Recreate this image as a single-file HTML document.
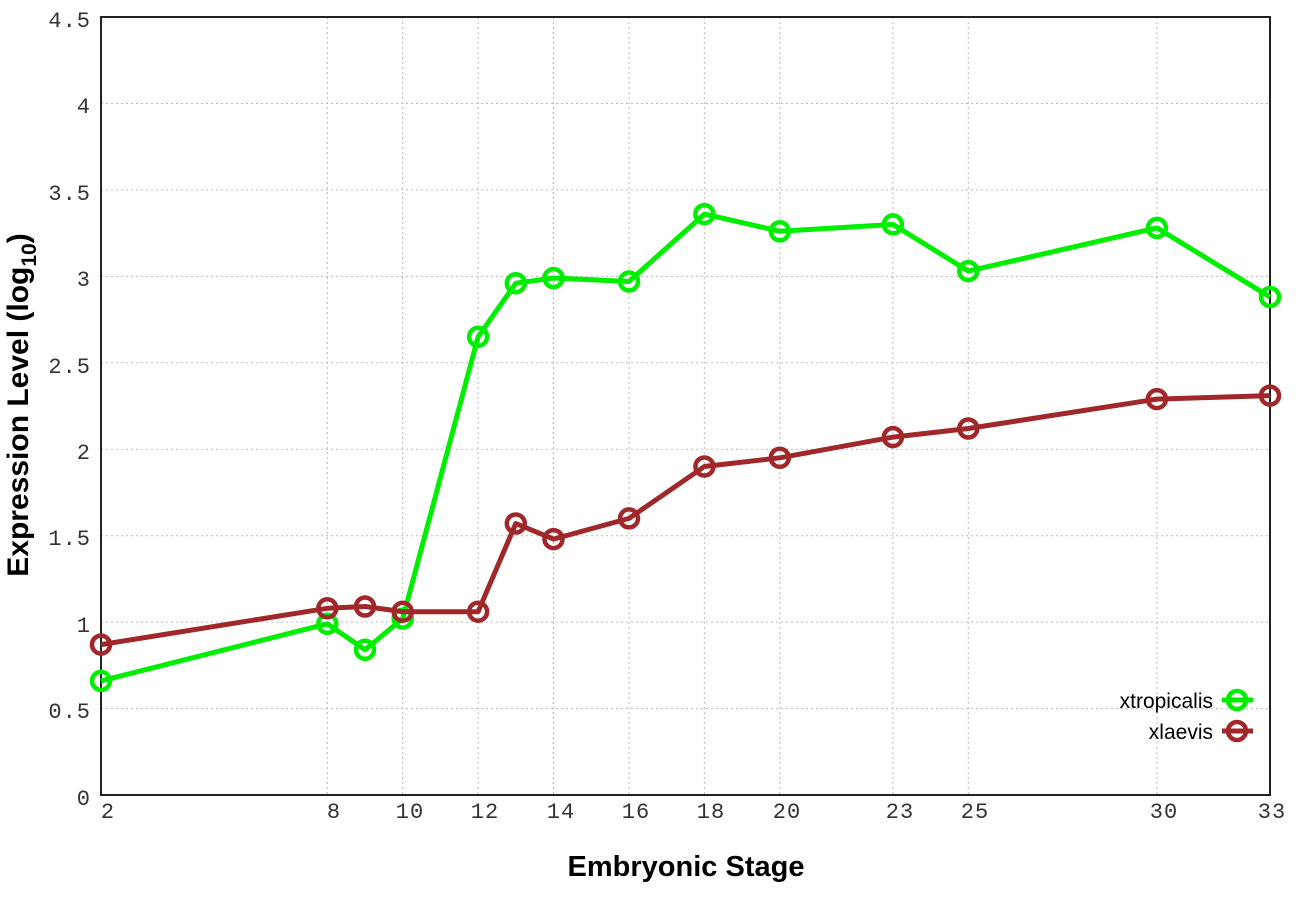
<!DOCTYPE html>
<html><head><meta charset="utf-8"><style>
html,body{margin:0;padding:0;background:#fff;}
svg{display:block;}
.t{font-family:"Liberation Mono",monospace;font-size:22px;fill:#333;letter-spacing:1px;}
</style></head><body>
<svg width="1296" height="907" viewBox="0 0 1296 907" xmlns="http://www.w3.org/2000/svg">
<g stroke="#bbb" stroke-width="1" stroke-dasharray="2,3">
<line x1="101" y1="708.6" x2="1270" y2="708.6"/>
<line x1="101" y1="622.1" x2="1270" y2="622.1"/>
<line x1="101" y1="535.7" x2="1270" y2="535.7"/>
<line x1="101" y1="449.2" x2="1270" y2="449.2"/>
<line x1="101" y1="362.8" x2="1270" y2="362.8"/>
<line x1="101" y1="276.4" x2="1270" y2="276.4"/>
<line x1="101" y1="189.9" x2="1270" y2="189.9"/>
<line x1="101" y1="103.5" x2="1270" y2="103.5"/>
<line x1="327.3" y1="17" x2="327.3" y2="795"/>
<line x1="402.7" y1="17" x2="402.7" y2="795"/>
<line x1="478.1" y1="17" x2="478.1" y2="795"/>
<line x1="553.5" y1="17" x2="553.5" y2="795"/>
<line x1="629" y1="17" x2="629" y2="795"/>
<line x1="704.4" y1="17" x2="704.4" y2="795"/>
<line x1="779.8" y1="17" x2="779.8" y2="795"/>
<line x1="892.9" y1="17" x2="892.9" y2="795"/>
<line x1="968.3" y1="17" x2="968.3" y2="795"/>
<line x1="1156.9" y1="17" x2="1156.9" y2="795"/>
</g>
<rect x="101" y="17" width="1169" height="778" fill="none" stroke="#222" stroke-width="2"/>
<g class="t" text-anchor="end">
<text x="91" y="805">0</text>
<text x="91" y="718">0.5</text>
<text x="91" y="632">1</text>
<text x="91" y="545">1.5</text>
<text x="91" y="459">2</text>
<text x="91" y="373">2.5</text>
<text x="91" y="286">3</text>
<text x="91" y="200">3.5</text>
<text x="91" y="113">4</text>
<text x="91" y="27">4.5</text>
</g>
<g class="t" text-anchor="middle">
<text x="108" y="818">2</text>
<text x="334" y="818">8</text>
<text x="410" y="818">10</text>
<text x="485" y="818">12</text>
<text x="561" y="818">14</text>
<text x="636" y="818">16</text>
<text x="711" y="818">18</text>
<text x="787" y="818">20</text>
<text x="900" y="818">23</text>
<text x="975" y="818">25</text>
<text x="1164" y="818">30</text>
<text x="1272" y="818">33</text>
</g>
<text x="686" y="876" text-anchor="middle" font-family="Liberation Sans,sans-serif" font-weight="bold" font-size="29" fill="#000">Embryonic Stage</text>
<text transform="translate(28,405) rotate(-90)" text-anchor="middle" font-family="Liberation Sans,sans-serif" font-weight="bold" font-size="30" fill="#000">Expression Level (log<tspan font-size="21" dy="8">10</tspan><tspan dy="-8">)</tspan></text>
<g fill="none" stroke="#00ee00" stroke-width="5" stroke-linejoin="round">
<polyline points="101,680.9 327.3,623.8 365,649.8 402.7,618.6 478.1,336.8 515.8,283.2 553.5,278 629,281.5 704.4,214.1 779.8,231.3 892.9,224.4 968.3,271.1 1156.9,227.9 1270,297"/>
<g stroke-width="4.5">
<circle cx="101" cy="680.9" r="9"/><circle cx="327.3" cy="623.8" r="9"/><circle cx="365" cy="649.8" r="9"/><circle cx="402.7" cy="618.6" r="9"/><circle cx="478.1" cy="336.8" r="9"/><circle cx="515.8" cy="283.2" r="9"/><circle cx="553.5" cy="278" r="9"/><circle cx="629" cy="281.5" r="9"/><circle cx="704.4" cy="214.1" r="9"/><circle cx="779.8" cy="231.3" r="9"/><circle cx="892.9" cy="224.4" r="9"/><circle cx="968.3" cy="271.1" r="9"/><circle cx="1156.9" cy="227.9" r="9"/><circle cx="1270" cy="297" r="9"/>
</g>
<line x1="1222" y1="700" x2="1253" y2="700"/><circle cx="1237" cy="700" r="9" stroke-width="4.5"/>
</g>
<g fill="none" stroke="#a0282a" stroke-width="5" stroke-linejoin="round">
<polyline points="101,644.6 327.3,608.3 365,606.5 402.7,611.7 478.1,611.7 515.8,523.5 553.5,539.1 629,518.4 704.4,466.5 779.8,457.8 892.9,437.1 968.3,428.5 1156.9,399.1 1270,395.6"/>
<g stroke-width="4.5">
<circle cx="101" cy="644.6" r="9"/><circle cx="327.3" cy="608.3" r="9"/><circle cx="365" cy="606.5" r="9"/><circle cx="402.7" cy="611.7" r="9"/><circle cx="478.1" cy="611.7" r="9"/><circle cx="515.8" cy="523.5" r="9"/><circle cx="553.5" cy="539.1" r="9"/><circle cx="629" cy="518.4" r="9"/><circle cx="704.4" cy="466.5" r="9"/><circle cx="779.8" cy="457.8" r="9"/><circle cx="892.9" cy="437.1" r="9"/><circle cx="968.3" cy="428.5" r="9"/><circle cx="1156.9" cy="399.1" r="9"/><circle cx="1270" cy="395.6" r="9"/>
</g>
<line x1="1222" y1="731" x2="1253" y2="731"/><circle cx="1237" cy="731" r="9" stroke-width="4.5"/>
</g>
<g font-family="Liberation Sans,sans-serif" font-size="21" fill="#000" text-anchor="end">
<text x="1213" y="708">xtropicalis</text>
<text x="1213" y="739">xlaevis</text>
</g>
</svg>
</body></html>
